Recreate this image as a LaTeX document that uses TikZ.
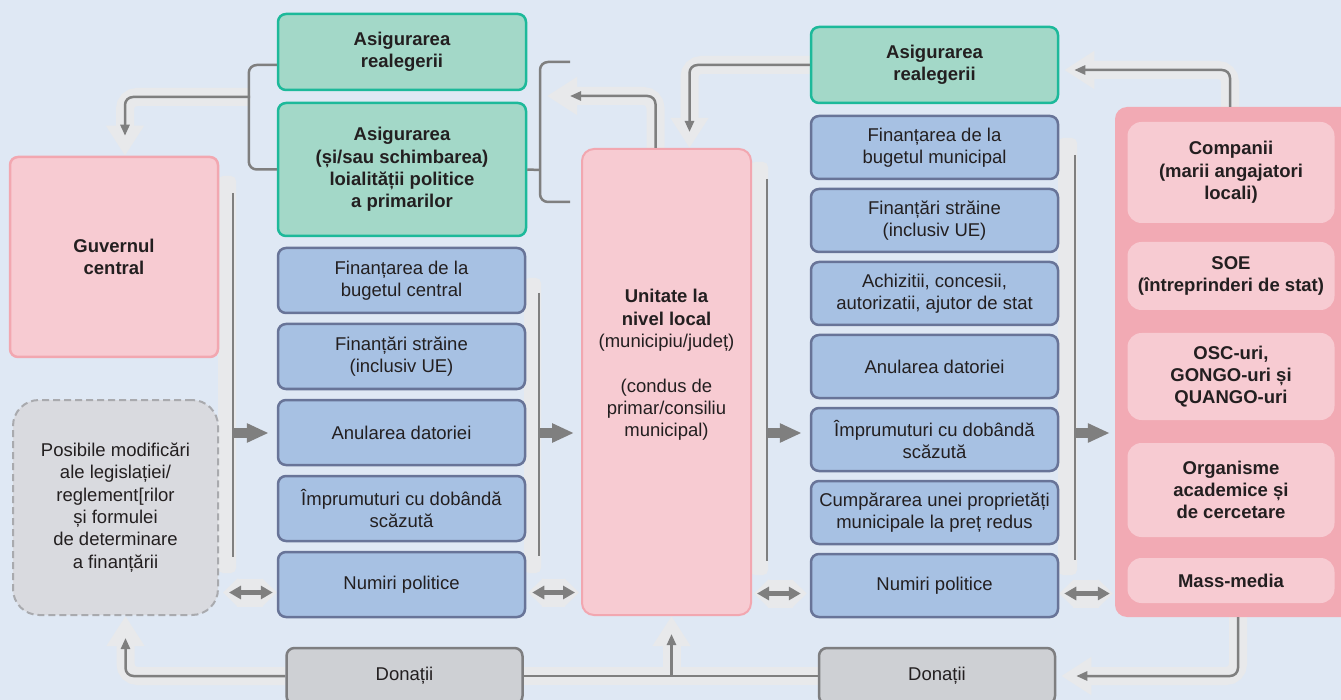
\documentclass[tikz,border=0pt]{standalone}
\usepackage{fontspec}
\setmainfont{Liberation Sans}
\usetikzlibrary{arrows.meta}

\definecolor{bgblue}{HTML}{DFE8F4}
\definecolor{pinkfill}{HTML}{F7CBD2}
\definecolor{pinkline}{HTML}{F2A7B0}
\definecolor{pinkdeep}{HTML}{F2AAB4}
\definecolor{greenfill}{HTML}{A3D8C8}
\definecolor{greenline}{HTML}{1DB99A}
\definecolor{bluefill}{HTML}{A7C1E3}
\definecolor{blueline}{HTML}{687498}
\definecolor{greyfill}{HTML}{CED0D4}
\definecolor{greyline}{HTML}{7E7E80}
\definecolor{dashfill}{HTML}{D9DADF}
\definecolor{dashline}{HTML}{A9AAAE}
\definecolor{linkgrey}{HTML}{7F7F7F}
\definecolor{halogrey}{HTML}{E8E9EB}
\definecolor{ink}{HTML}{231F20}

\pgfdeclarelayer{back}
\pgfsetlayers{back,main}

\tikzset{
  box/.style={rectangle, rounded corners=8, line width=2.5, align=center, text=ink,
    inner sep=1.5, font=\fontsize{18.5}{22.3}\selectfont},
  boldbox/.style={box, font=\fontsize{18.5}{22.3}\selectfont\bfseries},
  bluebox/.style={box, fill=bluefill, draw=blueline, minimum width=247, minimum height=63},
  greenbox/.style={boldbox, fill=greenfill, draw=greenline, minimum width=248, minimum height=76},
  pinkbox/.style={box, fill=pinkfill, draw=pinkline, line width=2, rounded corners=12},
  actorbox/.style={boldbox, fill=pinkfill, rounded corners=14, minimum width=207},
  greybox/.style={box, fill=greyfill, draw=greyline, minimum width=236, minimum height=56},
  dashbox/.style={box, fill=dashfill, draw=dashline, line width=2, dash pattern=on 7pt off 4pt,
    rounded corners=26, minimum width=205, minimum height=215},
  conn/.style={draw=linkgrey, line width=2.5, rounded corners=8},
  smalltip/.style={-{Triangle[length=11pt,width=9pt]}},
  halo/.style={draw=halogrey, line width=18, rounded corners=12},
  bigtip/.style={-{Triangle[length=30pt,width=36pt]}},
  haloband/.style={fill=halogrey, rounded corners=5},
  fatarrow/.style={draw=linkgrey, line width=10, -{Triangle[length=22pt,width=18pt]}},
  twoway/.style={draw=linkgrey, line width=5,
    {Triangle[length=12pt,width=13pt]}-{Triangle[length=12pt,width=13pt]}},
  twowayhalo/.style={draw=halogrey, line width=28,
    {Triangle[length=15pt,width=28pt]}-{Triangle[length=15pt,width=28pt]}},
}

\begin{document}
\begin{tikzpicture}[x=1pt, y=-1pt]
\useasboundingbox (0,0) rectangle (1341,700);
\clip (0,0) rectangle (1341,700);

% central level
\node[pinkbox, boldbox, minimum width=208, minimum height=200] (guv) at (114,257) {Guvernul\\central};
\node[dashbox] (modif) at (115.5,507.5) {Posibile modificări\\ale legislației/\\reglement[rilor\\și formulei\\de determinare\\a finanțării};

% left column
\node[greenbox] (reel1) at (402,52) {Asigurarea\\realegerii};
\node[greenbox, minimum height=133] (loial) at (402,169.5) {Asigurarea\\(și/sau schimbarea)\\loialității politice\\a primarilor};
\node[bluebox, minimum height=65] (bugc) at (401.5,280.5) {Finanțarea de la\\bugetul central};
\node[bluebox, minimum height=65] (strc) at (401.5,356.5) {Finanțări străine\\(inclusiv UE)};
\node[bluebox, minimum height=65] (datc) at (401.5,432.5) {Anularea datoriei};
\node[bluebox, minimum height=65] (impc) at (401.5,508.5) {Împrumuturi cu dobândă\\scăzută};
\node[bluebox, minimum height=65] (numc) at (401.5,584.5) {Numiri politice};

% local unit
\node[pinkbox, minimum width=169, minimum height=466] (unit) at (666.5,382) {};
\node[text=ink, align=center, font=\fontsize{18.5}{22.3}\selectfont] (unittxt) at (666.5,365)
  {\textbf{Unitate la}\\\textbf{nivel local}\\(municipiu/județ)\\[22.3pt](condus de\\primar/consiliu\\municipal)};

% right column
\node[greenbox, minimum width=247] (reel2) at (934.5,65) {Asigurarea\\realegerii};
\node[bluebox] (bugm) at (934.5,147.5) {Finanțarea de la\\bugetul municipal};
\node[bluebox] (strm) at (934.5,220.5) {Finanțări străine\\(inclusiv UE)};
\node[bluebox] (achm) at (934.5,293.5) {Achizitii, concesii,\\autorizatii, ajutor de stat};
\node[bluebox] (datm) at (934.5,366.5) {Anularea datoriei};
\node[bluebox] (impm) at (934.5,439.5) {Împrumuturi cu dobândă\\scăzută};
\node[bluebox] (cump) at (934.5,512.5) {Cumpărarea unei proprietăți\\municipale la preț redus};
\node[bluebox] (numm) at (934.5,585.5) {Numiri politice};

% local actors
\node[fill=pinkdeep, rounded corners=12, minimum width=238, minimum height=510] (actori) at (1234,362) {};
\node[actorbox, minimum height=101] (comp) at (1231,172.5) {Companii\\(marii angajatori\\locali)};
\node[actorbox, minimum height=68] (soe) at (1231,276) {SOE\\(întreprinderi de stat)};
\node[actorbox, minimum height=87] (osc) at (1231,376.5) {OSC-uri,\\GONGO-uri și\\QUANGO-uri};
\node[actorbox, minimum height=94] (acad) at (1231,490) {Organisme\\academice și\\de cercetare};
\node[actorbox, minimum height=45] (media) at (1231,580.5) {Mass-media};

% donations
\node[greybox] (don1) at (404.5,676) {Donații};
\node[greybox] (don2) at (937,676) {Donații};

\coordinate (brl) at (250,97);
\coordinate (brr) at (540,170);
\coordinate (upl) at (547,96);
\coordinate (jn) at (671.5,676);
\coordinate (v1) at (233,433);
\coordinate (v2) at (539,433);
\coordinate (v3) at (767,433);
\coordinate (v4) at (1075,433);
\coordinate (d1) at ([yshift=-8]numc.west);
\coordinate (d2) at ([yshift=-8]numc.east);
\coordinate (d3) at ([yshift=-8]numm.west);
\coordinate (d4) at ([yshift=-8]numm.east);

\begin{pgfonlayer}{back}
  \fill[bgblue] (0,0) rectangle (1341,700);
  \fill[haloband] (218,176) rectangle (236,573);
  \fill[haloband] (524,278) rectangle (541,573);
  \fill[haloband] (750,162) rectangle (768,575);
  \fill[haloband] (1058,138) rectangle (1077,575);
  \draw[halo, bigtip] (brl) -| ([xshift=11]guv.north);
  \draw[halo, bigtip] ([xshift=-11]unit.north) |- (upl);
  \draw[halo, bigtip] (reel2.west) -| ([xshift=23]unit.north);
  \draw[halo, bigtip, shorten >=5] ([xshift=-4]actori.north) |- ([yshift=-5]reel2.east);
  \draw[halo, bigtip, shorten >=5] ([xshift=4]actori.south) |- (don2.east);
  \draw[halo] (don2.west) -- (don1.east);
  \draw[halo, bigtip] (jn) -- ([xshift=5]unit.south);
  \draw[halo, bigtip] (don1.west) -| ([xshift=10]modif.south);
  \draw[twowayhalo, shorten <=4] (d1 -| modif.east) -- (d1);
  \draw[twowayhalo, shorten <=2, shorten >=2] (d2) -- (d2 -| unit.west);
  \draw[twowayhalo, shorten <=2, shorten >=3] (d3 -| unit.east) -- (d3);
  \draw[twowayhalo, shorten >=2] (d4) -- (d4 -| actori.west);
\end{pgfonlayer}

% brackets and connectors
\draw[conn] ([yshift=-13]reel1.west) -- ++(-28,0) |- (loial.west);
\draw[conn, smalltip, shorten >=20] (brl) -| ([xshift=11]guv.north);
\draw[conn] (loial.east) -- (brr);
\draw[conn] (570,62) -- (540,62) -- (540,202) -- (570,202);
\draw[conn, smalltip, shorten >=23] ([xshift=-11]unit.north) |- (upl);
\draw[conn, smalltip, shorten >=16] (reel2.west) -| ([xshift=23]unit.north);
\draw[conn, smalltip, shorten >=15] ([xshift=-4]actori.north) |- ([yshift=-5]reel2.east);
\draw[conn, smalltip, shorten >=20] ([xshift=4]actori.south) |- (don2.east);
\draw[conn] (don2.west) -- (don1.east);
\draw[conn, smalltip, shorten >=18] (jn) -- ([xshift=5]unit.south);
\draw[conn, smalltip, shorten >=22] (don1.west) -| ([xshift=10]modif.south);

% flows into the columns
\draw[conn] (233,193) -- (233,557);
\draw[conn] (539,293) -- (539,556);
\draw[conn] (767,179) -- (767,561);
\draw[conn] (1075,155) -- (1075,560);
\draw[fatarrow, shorten >=8] (v1) -- (v1 -| datc.west);
\draw[fatarrow, shorten >=7] (v2) -- (v2 -| unit.west);
\draw[fatarrow, shorten >=8] (v3) -- (v3 -| impm.west);
\draw[fatarrow, shorten >=5] (v4) -- (v4 -| actori.west);

% two-way links
\draw[twoway, shorten <=10, shorten >=4] (d1 -| modif.east) -- (d1);
\draw[twoway, shorten <=6, shorten >=6] (d2) -- (d2 -| unit.west);
\draw[twoway, shorten <=5, shorten >=9] (d3 -| unit.east) -- (d3);
\draw[twoway, shorten <=5, shorten >=5] (d4) -- (d4 -| actori.west);
\end{tikzpicture}
\end{document}
